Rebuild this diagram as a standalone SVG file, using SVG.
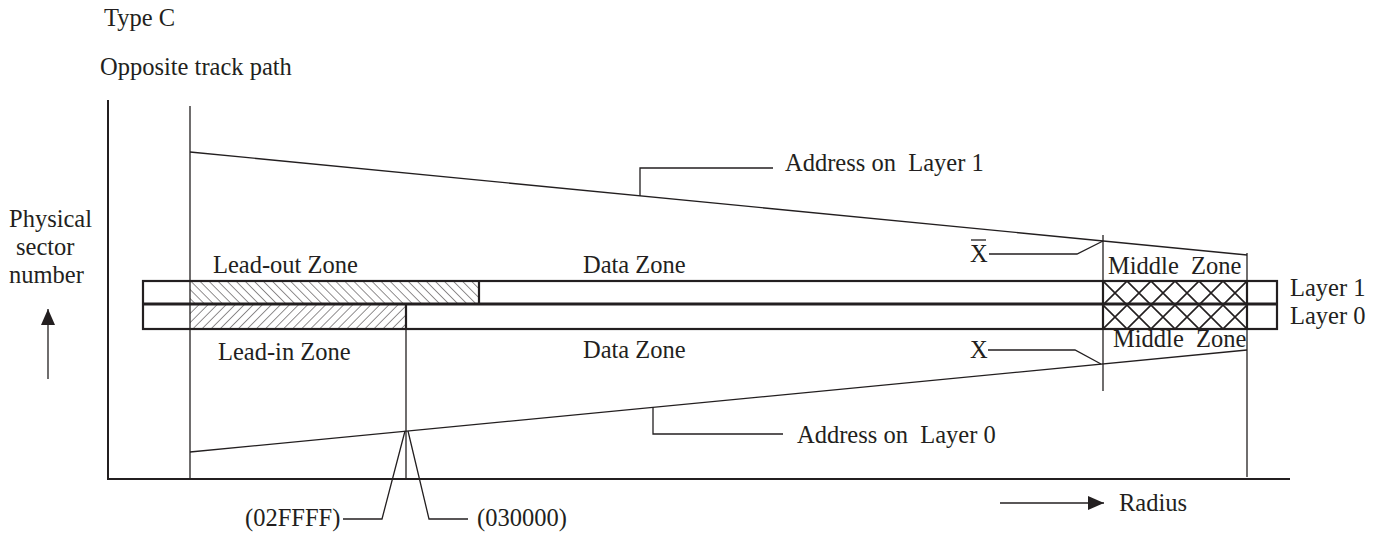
<svg xmlns="http://www.w3.org/2000/svg" width="1385" height="536" viewBox="0 0 1385 536">
<style>
text{font-family:"Liberation Serif","Times New Roman",serif;font-size:24.5px;fill:#231f20;white-space:pre}
.ax{stroke:#231f20;stroke-width:2;fill:none}
.th{stroke:#231f20;stroke-width:1.3;fill:none}
.bx{stroke:#231f20;stroke-width:2.2;fill:none}
</style>
<defs>
<pattern id="hOut" width="6.4" height="6.4" patternUnits="userSpaceOnUse" patternTransform="translate(190,281) rotate(-45)"><line x1="0" y1="-1" x2="0" y2="8" stroke="#231f20" stroke-width="1"/></pattern>
<pattern id="hIn" width="6.4" height="6.4" patternUnits="userSpaceOnUse" patternTransform="translate(190,304) rotate(45)"><line x1="0" y1="-1" x2="0" y2="8" stroke="#231f20" stroke-width="1"/></pattern>
<pattern id="hMid" width="24" height="24" patternUnits="userSpaceOnUse" x="1103" y="281"><path d="M0 0L24 24M24 0L0 24" stroke="#231f20" stroke-width="1.6"/></pattern>
<marker id="ah" markerWidth="16" markerHeight="14" refX="16" refY="7" orient="auto" markerUnits="userSpaceOnUse"><path d="M0 0L16 7L0 14Z" fill="#231f20"/></marker>
</defs>

<g id="titles">
<text x="104" y="26">Type C</text>
<text x="100" y="75">Opposite track path</text>
</g>

<g id="axes">
<path class="ax" d="M108 100V479H1290"/>
<text x="9" y="227">Physical</text>
<text x="16" y="255">sector</text>
<text x="9" y="283">number</text>
<line class="th" x1="48" y1="379" x2="48" y2="309" marker-end="url(#ah)"/>
<line class="th" x1="1000" y1="503" x2="1104" y2="503" marker-end="url(#ah)"/>
<text x="1119" y="511">Radius</text>
</g>

<g id="layers">
<rect x="190" y="281" width="289" height="23" fill="url(#hOut)"/>
<rect x="190" y="304" width="216" height="25" fill="url(#hIn)"/>
<rect x="1103" y="281" width="144" height="48" fill="url(#hMid)"/>
<rect class="bx" x="143" y="281" width="1134" height="48"/>
<line x1="143" y1="304" x2="1277" y2="304" stroke="#231f20" stroke-width="3"/>
<path class="bx" d="M479 281V304M406 304V329M1103 281V329M1247 281V329"/>
<text x="1290" y="296">Layer 1</text>
<text x="1290" y="324">Layer 0</text>
<text x="213" y="273">Lead-out Zone</text>
<text x="583" y="273">Data Zone</text>
<text x="1108" y="274">Middle  Zone</text>
<text x="218" y="360">Lead-in Zone</text>
<text x="583" y="358">Data Zone</text>
<text x="1113" y="347">Middle  Zone</text>
</g>

<g id="connectors">
<line class="th" x1="190" y1="106" x2="190" y2="479"/>
<line class="th" x1="1103" y1="235" x2="1103" y2="391"/>
<line class="th" x1="1247" y1="253" x2="1247" y2="477"/>
<line class="th" x1="406" y1="329" x2="406" y2="479"/>
<line class="th" x1="190" y1="152" x2="1247" y2="255"/>
<line class="th" x1="190" y1="452" x2="1247" y2="350"/>
<path class="th" d="M640 196V168H773"/>
<path class="th" d="M653 407V434H783"/>
<path class="th" d="M989 254H1077L1103 241"/>
<path class="th" d="M988 350H1075L1101 364"/>
<path class="th" d="M405 431L382 519H343"/>
<path class="th" d="M408 431L429 519H468"/>
</g>

<g id="labels">
<text x="785" y="171">Address on  Layer 1</text>
<text x="797" y="443">Address on  Layer 0</text>
<text x="970" y="262">X</text>
<line class="th" x1="971" y1="240" x2="986" y2="240"/>
<text x="970" y="358">X</text>
<text x="245" y="526">(02FFFF)</text>
<text x="477" y="526">(030000)</text>
</g>
</svg>
